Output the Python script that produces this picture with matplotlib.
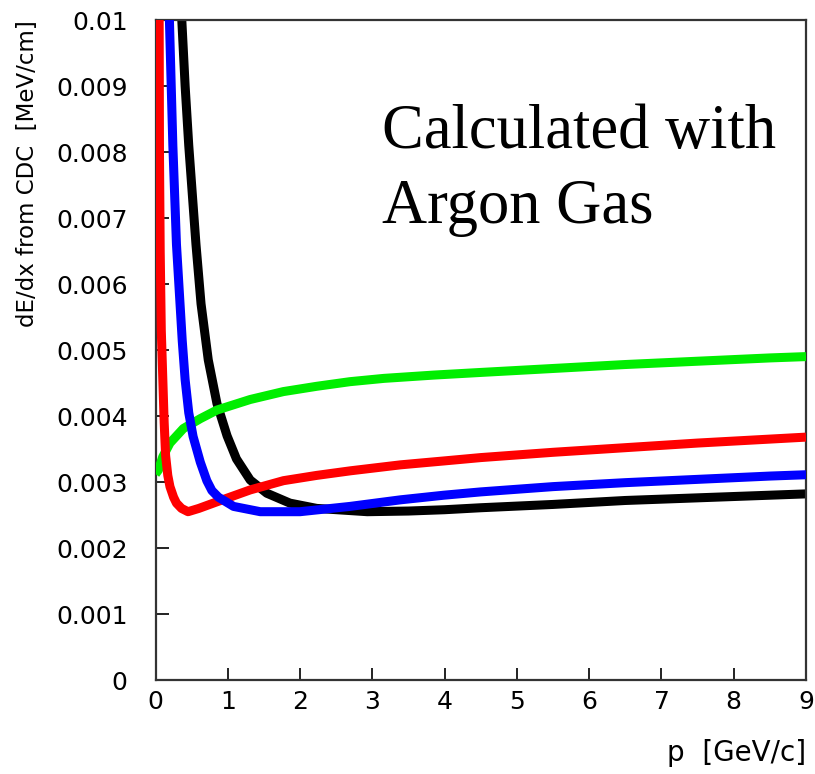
import numpy as np
import matplotlib
matplotlib.use("Agg")
import matplotlib.pyplot as plt

# Energy loss per unit length in the CDC (values in units of 1e-3 MeV/cm)
p_proton = [0.35, 0.41, 0.46, 0.56, 0.63, 0.73, 0.85, 0.99, 1.12, 1.31, 1.54, 1.86, 2.23, 2.93, 3.5, 4.0, 4.5, 5.5, 6.5, 7.5, 8.5, 9.0]
de_proton = [10.3, 9.0, 8.1, 6.6, 5.7, 4.85, 4.19, 3.7, 3.35, 3.03, 2.83, 2.68, 2.6, 2.55, 2.56, 2.58, 2.61, 2.66, 2.72, 2.76, 2.8, 2.82]

p_kaon = [0.185, 0.24, 0.29, 0.37, 0.41, 0.46, 0.52, 0.62, 0.71, 0.78, 0.87, 1.08, 1.45, 2.0, 2.69, 3.39, 3.99, 4.5, 5.5, 6.5, 7.5, 8.5, 9.0]
de_kaon = [10.3, 8.1, 6.6, 5.14, 4.55, 4.05, 3.69, 3.3, 3.02, 2.87, 2.77, 2.63, 2.55, 2.55, 2.63, 2.73, 2.8, 2.85, 2.93, 2.99, 3.04, 3.09, 3.11]

p_pion = [0.05, 0.055, 0.065, 0.08, 0.1, 0.12, 0.14, 0.17, 0.2, 0.25, 0.29, 0.36, 0.45, 0.6, 0.85, 1.31, 1.77, 2.23, 2.7, 3.39, 4.0, 4.5, 5.5, 6.5, 7.5, 8.5, 9.0]
de_pion = [10.3, 8.0, 6.5, 5.3, 4.6, 3.9, 3.4, 3.1, 2.93, 2.77, 2.68, 2.6, 2.55, 2.6, 2.7, 2.88, 3.02, 3.1, 3.17, 3.26, 3.32, 3.37, 3.45, 3.52, 3.59, 3.65, 3.68]

p_electron = [0.0, 0.04, 0.1, 0.2, 0.385, 0.62, 0.85, 1.31, 1.77, 2.23, 2.69, 3.16, 3.85, 4.5, 5.5, 6.5, 7.5, 8.5, 9.0]
de_electron = [3.12, 3.18, 3.38, 3.59, 3.81, 3.96, 4.09, 4.25, 4.37, 4.45, 4.52, 4.57, 4.62, 4.66, 4.72, 4.78, 4.83, 4.88, 4.9]

x_ticks = [0, 1, 2, 3, 4, 5, 6, 7, 8, 9]
y_ticks = [0, 0.001, 0.002, 0.003, 0.004, 0.005, 0.006, 0.007, 0.008, 0.009, 0.01]
y_tick_labels = ["0", "0.001", "0.002", "0.003", "0.004", "0.005", "0.006", "0.007", "0.008", "0.009", "0.01"]

W, H = 815, 774
fig = plt.figure(figsize=(W / 100, H / 100), dpi=100)
fig.patch.set_facecolor("white")

left, right, top, bottom = 155.5, 806, 20, 680
ax = fig.add_axes([left / W, 1 - bottom / H, (right - left) / W, (bottom - top) / H])

lw = 6.5
scale = 1e-3
ax.plot(p_electron, np.array(de_electron) * scale, color="#00ee00", lw=lw,
        solid_capstyle="butt", solid_joinstyle="round", zorder=3)
ax.plot(p_pion, np.array(de_pion) * scale, color="#ff0000", lw=lw,
        solid_capstyle="butt", solid_joinstyle="round", zorder=4)
ax.plot(p_kaon, np.array(de_kaon) * scale, color="#0000ff", lw=lw,
        solid_capstyle="butt", solid_joinstyle="round", zorder=5)
ax.plot(p_proton, np.array(de_proton) * scale, color="#000000", lw=lw,
        solid_capstyle="butt", solid_joinstyle="round", zorder=2)

ax.set_xlim(0, 9)
ax.set_ylim(0, 0.01)
ax.set_xticks(x_ticks)
ax.set_yticks(y_ticks)
ax.set_yticklabels(y_tick_labels)

for s in ax.spines.values():
    s.set_linewidth(1.6)
    s.set_color("#333333")

ax.tick_params(axis="both", direction="in", length=9, width=1.4, color="#222222",
               labelsize=18, top=False, right=False)
ax.tick_params(axis="y", pad=20)
ax.tick_params(axis="x", pad=7)

ax.set_ylabel("dE/dx from CDC  [MeV/cm]", fontsize=16.5, loc="top", labelpad=12)
ax.set_xlabel("p  [GeV/c]", fontsize=20, loc="right", labelpad=18)

fig.text(382 / W, 1 - 148 / H, "Calculated with", family="Liberation Serif",
         fontsize=45, va="baseline", ha="left")
fig.text(382 / W, 1 - 223 / H, "Argon Gas", family="Liberation Serif",
         fontsize=45, va="baseline", ha="left")

fig.savefig("out.png", dpi=100, facecolor="white")
